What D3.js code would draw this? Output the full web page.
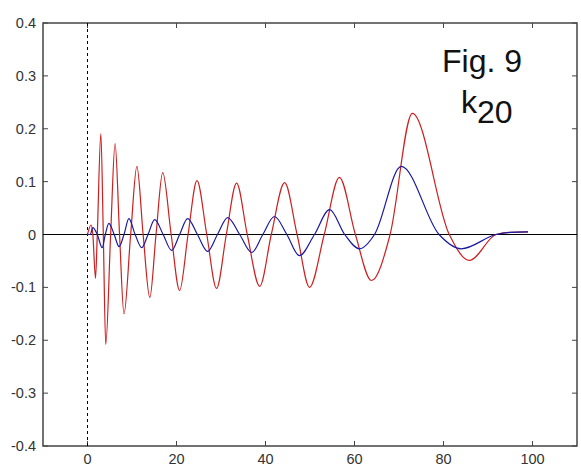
<!DOCTYPE html>
<html lang="en">
<head>
    <meta charset="UTF-8" />
    <title>Fig. 9 k20</title>
    <script src="https://d3js.org/d3.v7.min.js"></script>
    <style>
        body { margin: 0; background: #fff; }
        text { font-family: Arial, "Liberation Sans", sans-serif; }
        .tick-label { font-size: 14.5px; fill: #333; }
    </style>
</head>
<body>
    <svg id="chart" width="581" height="466"></svg>
    <script>
        // tick values
        const xTicks = [0, 20, 40, 60, 80, 100];
        const yTicks = [-0.4, -0.3, -0.2, -0.1, 0, 0.1, 0.2, 0.3, 0.4];

        // red curve
        const redT = [0, 0.8, 1.2, 1.8, 2.2, 3.0, 3.55, 4.1, 5.2, 6.2, 7.2, 8.2, 9.7, 11.1, 12.5, 14.0,
            15.4, 16.9, 18.8, 20.7, 22.6, 24.6, 26.8, 29.0, 31.2, 33.5, 35.9, 38.7, 41.3, 44.3,
            47.1, 49.9, 53.2, 56.6, 60.2, 63.8, 68.0, 73.0, 81.3, 85.8, 91.8, 95, 99];
        const redV = [0, 0.018, 0.0, -0.083, 0.0, 0.191, 0.0, -0.208, 0.0, 0.172, 0.0, -0.150, 0.0, 0.129, 0.0, -0.119,
            0.0, 0.117, 0.0, -0.106, 0.0, 0.102, 0.0, -0.102, 0.0, 0.097, 0.0, -0.098, 0.0, 0.098,
            0.0, -0.100, 0.0, 0.108, 0.0, -0.087, 0.0, 0.229, 0.0, -0.049, 0.0, 0.004, 0.005];

        // blue curve
        const blueT = [0, 0.6, 1.2, 2.2, 3.3, 4.0, 4.8, 6.0, 7.1, 8.2, 9.3, 10.7, 12.2, 13.6, 15.1, 17.0,
            18.9, 20.7, 22.5, 24.7, 27.0, 29.2, 31.5, 34.2, 36.9, 39.4, 42.0, 44.8, 47.6, 51.0,
            54.4, 57.8, 61.1, 64.5, 70.5, 79.0, 84.0, 91.8, 95, 99];
        const blueV = [0, 0.0, 0.013, 0.0, -0.025, 0.0, 0.021, 0.0, -0.023, 0.0, 0.030, 0.0, -0.025, 0.0, 0.028, 0.0,
            -0.030, 0.0, 0.030, 0.0, -0.032, 0.0, 0.032, 0.0, -0.034, 0.0, 0.034, 0.0, -0.040, 0.0,
            0.047, 0.0, -0.027, 0.0, 0.129, 0.0, -0.027, 0.0, 0.004, 0.005];

        const svg = d3.select("#chart");
        const padL = 43, padR = 577, padT = 23, padB = 446;

        const x = d3.scaleLinear().domain([-10, 110]).range([padL, padR]);
        const y = d3.scaleLinear().domain([-0.4, 0.4]).range([padB, padT]);

        // frame
        svg.append("rect")
            .attr("x", padL).attr("y", padT)
            .attr("width", padR - padL).attr("height", padB - padT)
            .attr("fill", "none").attr("stroke", "#444").attr("stroke-width", 1.5);

        // inward ticks on all four sides
        const tickLen = 5;
        svg.selectAll(".xt-b").data(xTicks).enter().append("line")
            .attr("x1", d => x(d)).attr("x2", d => x(d))
            .attr("y1", padB).attr("y2", padB - tickLen)
            .attr("stroke", "#444");
        svg.selectAll(".xt-t").data(xTicks).enter().append("line")
            .attr("x1", d => x(d)).attr("x2", d => x(d))
            .attr("y1", padT).attr("y2", padT + tickLen)
            .attr("stroke", "#444");
        svg.selectAll(".yt-l").data(yTicks).enter().append("line")
            .attr("x1", padL).attr("x2", padL + tickLen)
            .attr("y1", d => y(d)).attr("y2", d => y(d))
            .attr("stroke", "#444");
        svg.selectAll(".yt-r").data(yTicks).enter().append("line")
            .attr("x1", padR).attr("x2", padR - tickLen)
            .attr("y1", d => y(d)).attr("y2", d => y(d))
            .attr("stroke", "#444");

        // tick labels
        svg.selectAll(".xl").data(xTicks).enter().append("text")
            .attr("class", "tick-label")
            .attr("x", d => x(d)).attr("y", padB + 18)
            .attr("text-anchor", "middle")
            .text(d => d);
        svg.selectAll(".yl").data(yTicks).enter().append("text")
            .attr("class", "tick-label")
            .attr("x", padL - 7).attr("y", d => y(d) + 5)
            .attr("text-anchor", "end")
            .text(d => +d.toFixed(1));

        // zero line and dashed t=0 line
        svg.append("line")
            .attr("x1", padL).attr("x2", padR)
            .attr("y1", y(0)).attr("y2", y(0))
            .attr("stroke", "#000").attr("stroke-width", 1.2);
        svg.append("line")
            .attr("x1", x(0)).attr("x2", x(0))
            .attr("y1", padT).attr("y2", padB)
            .attr("stroke", "#000").attr("stroke-dasharray", "3,3");

        const line = d3.line()
            .x(d => x(d[0]))
            .y(d => y(d[1]))
            .curve(d3.curveMonotoneX);

        const redData = redT.map((t, i) => [t, redV[i]]);
        const blueData = blueT.map((t, i) => [t, blueV[i]]);

        svg.append("path").datum(redData)
            .attr("d", line)
            .attr("fill", "none").attr("stroke", "#cc2020").attr("stroke-width", 1.2);
        svg.append("path").datum(blueData)
            .attr("d", line)
            .attr("fill", "none").attr("stroke", "#1a1aa0").attr("stroke-width", 1.2);

        // annotation
        svg.append("text")
            .attr("x", 442).attr("y", 72)
            .attr("font-size", 32).attr("fill", "#111")
            .text("Fig. 9");
        const k = svg.append("text")
            .attr("x", 461).attr("y", 113)
            .attr("font-size", 32).attr("fill", "#111");
        k.append("tspan").text("k");
        k.append("tspan").attr("dy", 10).text("20");
    </script>
</body>
</html>
